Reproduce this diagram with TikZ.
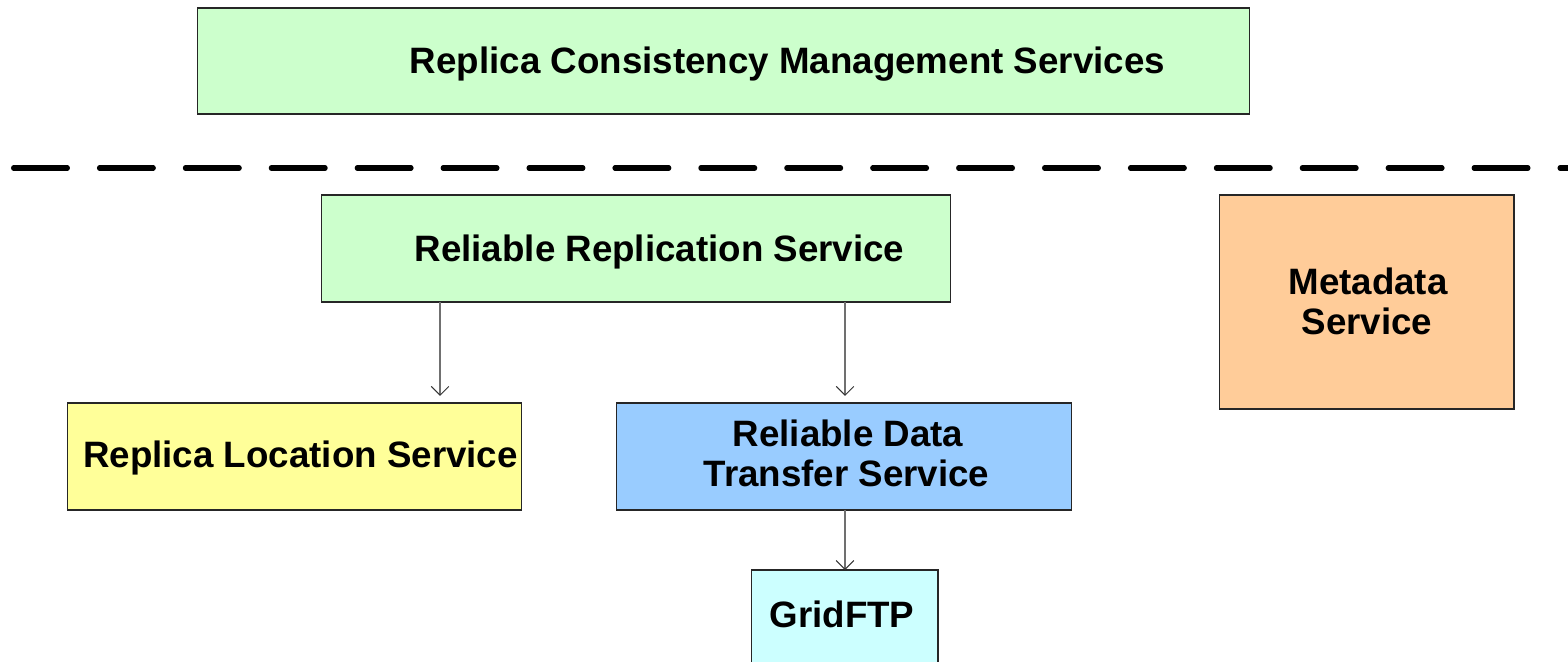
\documentclass[tikz,border=0pt]{standalone}
\usepackage{fontspec}
\setmainfont{Liberation Sans}
\usetikzlibrary{arrows.meta}
\definecolor{cgreen}{HTML}{CCFFCC}
\definecolor{corange}{HTML}{FFCC99}
\definecolor{cyellow}{HTML}{FFFF99}
\definecolor{cblue}{HTML}{99CCFF}
\definecolor{ccyan}{HTML}{CCFFFF}
\definecolor{arrgray}{HTML}{707070}
\tikzset{
  box/.style={draw=black!85, line width=0.6pt, inner sep=0pt, outer sep=0pt},
  lbl/.style={anchor=base, inner sep=0pt, font=\fontsize{20.9}{23}\selectfont\bfseries},
  arr/.style={draw=arrgray, line width=0.7pt, -{Straight Barb[length=5pt,width=10pt,color=black!80,line width=0.6pt]}},
  sep/.style={line width=2.85pt, line cap=round, dash pattern=on 30.7pt off 18.2pt}
}
\begin{document}
\begin{tikzpicture}[x=0.02cm,y=-0.02cm]
\useasboundingbox (0,0) rectangle (1568,662);
\clip (0,0) rectangle (1568,662);
\fill[white] (0,0) rectangle (1568,662);
% boxes
\node[box, fill=cgreen, minimum width=21.06cm, minimum height=2.12cm] (rcms) at (723.5,61) {};
\node[box, fill=cgreen, minimum width=12.6cm, minimum height=2.14cm] (rrs) at (636,248.5) {};
\node[box, fill=corange, minimum width=5.9cm, minimum height=4.28cm] (meta) at (1366.5,302) {};
\node[box, fill=cyellow, minimum width=9.1cm, minimum height=2.14cm] (rls) at (294.5,456.5) {};
\node[box, fill=cblue, minimum width=9.12cm, minimum height=2.14cm] (rdts) at (844,456.5) {};
\node[box, fill=ccyan, minimum width=3.74cm, minimum height=2.4cm] (grid) at (844.5,630) {};
% labels
\node[lbl] (trcms) at (787.5,74) {Replica Consistency Management Services};
\node[lbl] (trrs) at (659.5,261) {Reliable Replication Service};
\node[lbl] (tmeta1) at (1368,294) {Metadata};
\node[lbl] (tmeta2) at (1367,334) {Service};
\node[lbl] (trls) at (300.5,467) {Replica Location Service};
\node[lbl] (trdts1) at (848,446) {Reliable Data};
\node[lbl] (trdts2) at (846.5,486) {Transfer Service};
\node[lbl] (tgrid) at (842,627) {GridFTP};
% separator
\coordinate (sepL) at (13.5,168);
\coordinate (sepR) at (1600,168);
\draw[sep] (sepL) -- (sepR);
% arrows
\coordinate (xa) at (440,0);
\coordinate (xb) at (845,0);
\draw[arr, shorten >=4pt] (rrs.south -| xa) -- (rls.north -| xa);
\draw[arr, shorten >=4pt] (rrs.south -| xb) -- (rdts.north -| xb);
\draw[arr] (rdts.south -| xb) -- (grid.north -| xb);
\end{tikzpicture}
\end{document}
